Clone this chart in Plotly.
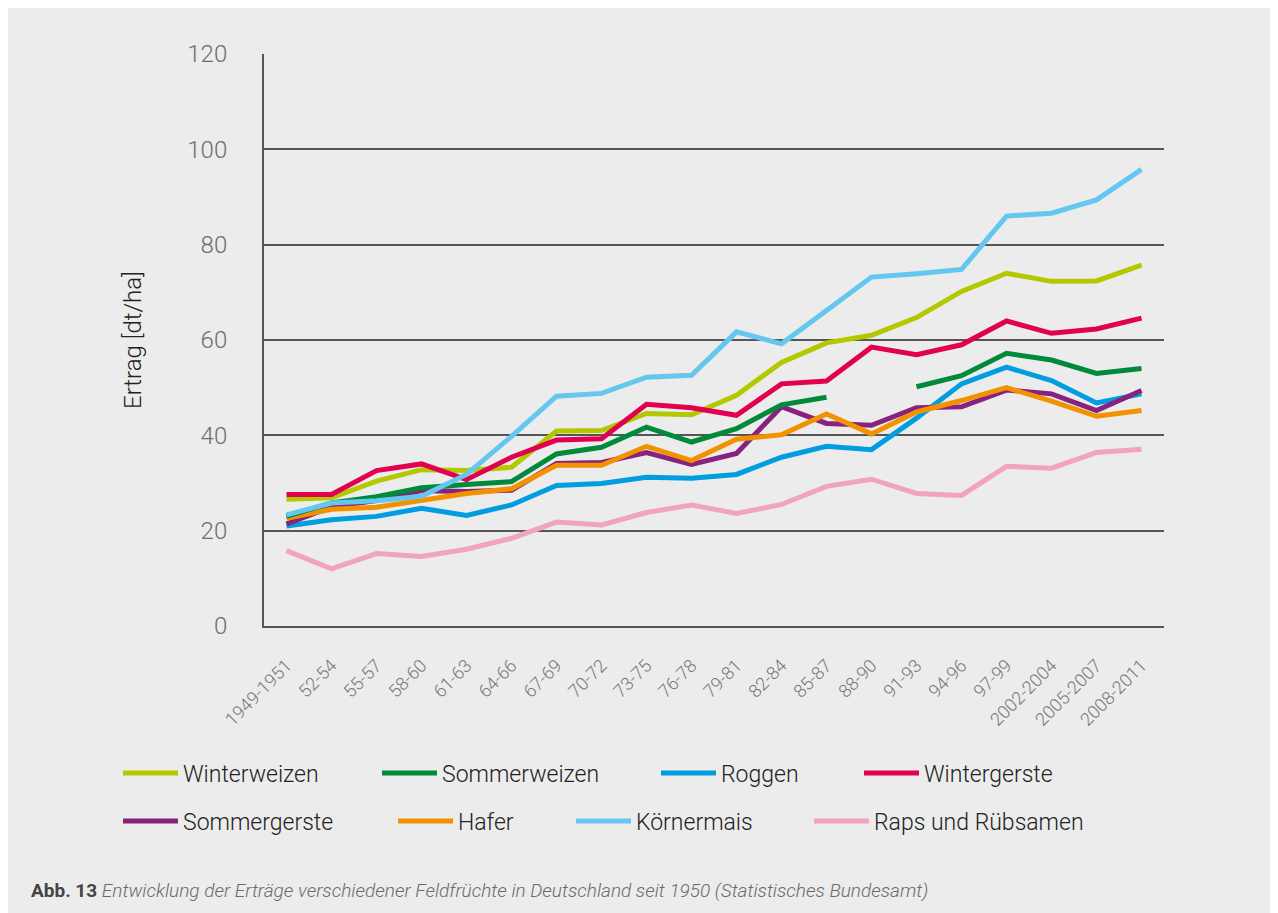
import plotly.graph_objects as go

categories = ["1949-1951", "52-54", "55-57", "58-60", "61-63", "64-66", "67-69", "70-72",
              "73-75", "76-78", "79-81", "82-84", "85-87", "88-90", "91-93", "94-96",
              "97-99", "2002-2004", "2005-2007", "2008-2011"]

winterweizen = [26.6, 26.9, 30.4, 32.8, 32.6, 33.3, 40.9, 41.0, 44.6, 44.3,
                48.4, 55.3, 59.4, 61.0, 64.7, 70.2, 74.0, 72.3, 72.4, 75.7]
sommerweizen = [23.0, 25.8, 27.1, 29.0, 29.7, 30.3, 36.1, 37.5, 41.7, 38.6,
                41.4, 46.4, 48.0, None, 50.2, 52.5, 57.2, 55.8, 53.0, 54.0]
roggen = [21.0, 22.3, 23.0, 24.7, 23.2, 25.4, 29.5, 29.9, 31.2, 31.0,
          31.8, 35.4, 37.7, 37.0, 43.6, 50.8, 54.3, 51.5, 46.8, 48.7]
wintergerste = [27.6, 27.6, 32.6, 34.0, 30.7, 35.4, 39.0, 39.3, 46.5, 45.8,
                44.2, 50.8, 51.4, 58.5, 56.9, 59.0, 64.0, 61.4, 62.3, 64.6]
sommergerste = [21.4, 25.0, 26.3, 28.4, 28.2, 28.5, 34.1, 34.3, 36.4, 33.9,
                36.2, 46.0, 42.5, 42.1, 45.8, 46.0, 49.5, 48.7, 45.2, 49.4]
hafer = [22.6, 24.5, 24.9, 26.4, 27.8, 28.8, 33.7, 33.7, 37.7, 34.7,
         39.2, 40.1, 44.5, 40.3, 44.9, 47.3, 50.0, 47.2, 44.0, 45.2]
koernermais = [23.3, 25.8, 26.3, 27.2, 31.8, 39.8, 48.2, 48.8, 52.2, 52.6,
               61.7, 59.2, 66.2, 73.2, 73.9, 74.8, 86.0, 86.6, 89.4, 95.8]
raps = [15.8, 12.0, 15.2, 14.6, 16.1, 18.4, 21.8, 21.2, 23.8, 25.4,
        23.6, 25.5, 29.3, 30.8, 27.8, 27.4, 33.5, 33.1, 36.4, 37.1]

y_ticks = [0, 20, 40, 60, 80, 100, 120]

# name, values, colour, legend id, legend text start x (page px), legend row y (page px)
series = [
    ("Raps und Rübsamen", raps, "#f2a2c3", "legend8", 878, 821),
    ("Roggen", roggen, "#009ee0", "legend3", 725, 773),
    ("Sommergerste", sommergerste, "#87227f", "legend5", 187, 821),
    ("Hafer", hafer, "#f39200", "legend6", 462, 821),
    ("Sommerweizen", sommerweizen, "#008a3a", "legend2", 446, 773),
    ("Winterweizen", winterweizen, "#b4c800", "legend", 187, 773),
    ("Wintergerste", wintergerste, "#e20050", "legend4", 928, 773),
    ("Körnermais", koernermais, "#64c7ef", "legend7", 640, 821),
]

W, H = 1278, 913
OFF = 8  # page body margin
L, R, T, B = 256, 122, 46, 295
pw, ph = W - L - R, H - T - B

def px_x(x):  # page px -> paper
    return (x - OFF - L) / pw

def px_y(y):
    return (H - B - (y - OFF)) / ph

FONT = "Roboto, 'Liberation Sans', Arial, sans-serif"
BG = "#ebeceb"

fig = go.Figure()
legend_layouts = {}
for name, vals, col, lg, tx, ty in series:
    fig.add_trace(go.Scatter(
        x=categories, y=vals, name=name, mode="lines",
        line=dict(color=col, width=5),
        connectgaps=False, legend=lg,
    ))
    legend_layouts[lg] = dict(
        xref="container", yref="container",
        x=(tx - OFF - 69) / W, y=1 - (ty - OFF) / H,
        xanchor="left", yanchor="middle",
        bgcolor="rgba(0,0,0,0)",
        itemwidth=55,
        font=dict(family=FONT, size=23, color="#222222", weight=300),
    )

fig.update_layout(**legend_layouts)

fig.update_layout(
    width=W, height=H,
    margin=dict(l=L, r=R, t=T, b=B, autoexpand=False),
    paper_bgcolor=BG,
    plot_bgcolor=BG,
    showlegend=True,
    font=dict(family=FONT, weight=300),
    xaxis=dict(
        type="category", range=[-0.5, 19.5],
        showgrid=False, showline=True, linecolor="#555555", linewidth=2,
        ticks="", tickangle=-45, ticklabelstandoff=20,
        tickfont=dict(family=FONT, size=18, color="#777777", weight=300),
        zeroline=False, fixedrange=True,
    ),
    yaxis=dict(
        range=[0, 120], tickvals=y_ticks,
        showgrid=True, gridcolor="#555555", gridwidth=2,
        showline=True, linecolor="#555555", linewidth=2,
        zeroline=False, ticks="", ticklabelstandoff=30,
        tickfont=dict(family=FONT, size=24, color="#6e6e6e", weight=300),
    ),
    annotations=[
        dict(
            xref="paper", yref="paper", x=px_x(133), y=px_y(340),
            xanchor="center", yanchor="middle", showarrow=False, textangle=-90,
            text="Ertrag [dt/ha]",
            font=dict(family=FONT, size=24, color="#222222", weight=300),
        ),
        dict(
            xref="paper", yref="paper", x=px_x(29), y=px_y(890),
            xanchor="left", yanchor="middle", showarrow=False,
            text="<b><span style='color:#444444'>Abb. 13</span></b> <i>Entwicklung der Erträge verschiedener Feldfrüchte in Deutschland seit 1950 (Statistisches Bundesamt)</i>",
            font=dict(family=FONT, size=19, color="#6a6a6a", weight=300),
        ),
    ],
)

fig.write_html("out.html")
